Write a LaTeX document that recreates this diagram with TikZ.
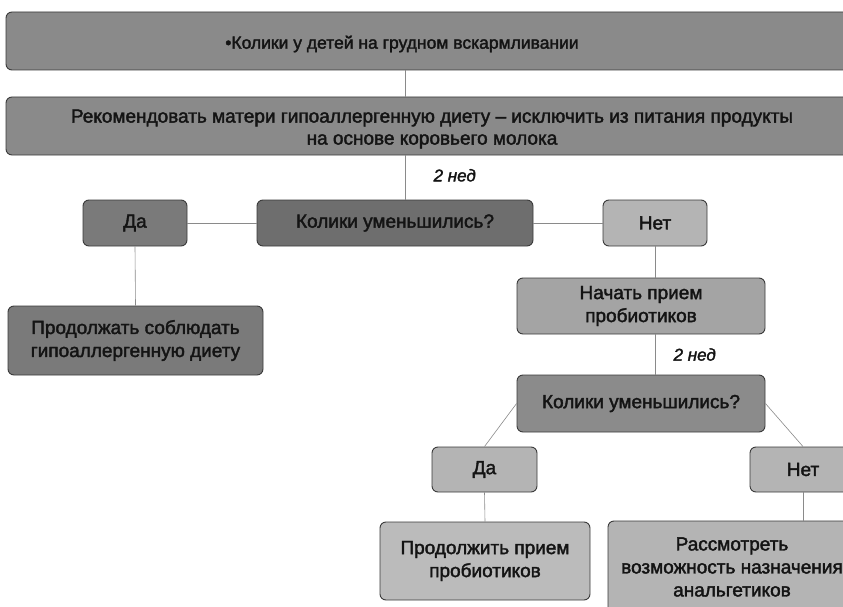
\documentclass[tikz,border=0pt]{standalone}
\usepackage{fontspec}
\setmainfont{Liberation Sans}[FakeBold=2]
\usetikzlibrary{positioning}
\definecolor{ScanInk}{HTML}{141414}
\definecolor{ScanEdge}{HTML}{3A3A3A}
\definecolor{ScanLine}{HTML}{8A8A8A}
\definecolor{ScanDark}{HTML}{7A7A7A}
\definecolor{ScanMid}{HTML}{8A8A8A}
\definecolor{ScanSoft}{HTML}{A4A4A4}
\definecolor{ScanPale}{HTML}{B4B4B4}
\tikzset{
  every node/.style={font=\fontsize{19}{23}\selectfont, text=ScanInk},
  box/.style={draw=ScanEdge, line width=0.9pt, rounded corners=6pt, inner sep=0pt, align=center},
  link/.style={draw=ScanLine, line width=0.6pt},
  period/.style={font=\fontsize{17}{21}\selectfont\itshape, anchor=west},
}
\begin{document}
\begin{tikzpicture}[x=1pt, y=-1pt]
  \useasboundingbox (0,0) rectangle (843,607);
  \clip (0,0) rectangle (843,607);
  % Header bars
  \node[box, fill=ScanMid, minimum width=874, minimum height=58] (colic) at (443,41) {};
  \node[font=\fontsize{17.5}{21}\selectfont] (colictext) at (402,44) {•Колики у детей на грудном вскармливании};
  \node[box, fill=ScanMid, minimum width=874, minimum height=58] (diet) at (443,126) {};
  \node[align=center, font=\fontsize{19}{22}\selectfont] (diettext) at (432,129)
    {Рекомендовать матери гипоаллергенную диету – исключить из питания продукты\\
     на основе коровьего молока};
  % First check
  \node[box, fill=ScanDark!90!black, minimum width=276, minimum height=46] (q1) at (395,223) {Колики уменьшились?};
  \node[box, fill=ScanDark, minimum width=104, minimum height=46] (yes1) at (135,223) {Да};
  \node[box, fill=ScanPale, minimum width=104, minimum height=46] (no1) at (655,223) {Нет};
  \node[box, fill=ScanDark, minimum width=255, minimum height=69] (keep) at (135.5,340.5)
    {Продолжать соблюдать\\гипоаллергенную диету};
  \node[box, fill=ScanSoft, minimum width=248, minimum height=56] (probio) at (641,306)
    {Начать прием\\пробиотиков};
  % Second check
  \node[box, fill=ScanSoft!85!black, minimum width=248, minimum height=57] (q2) at (641,403.5) {Колики уменьшились?};
  \node[box, fill=ScanPale, minimum width=105, minimum height=45] (yes2) at (484.5,469.5) {Да};
  \node[box, fill=ScanPale, minimum width=106, minimum height=45] (no2) at (803,469.5) {Нет};
  \node[box, fill=ScanPale!90!white, minimum width=210, minimum height=78] (cont) at (485,561)
    {Продолжить прием\\пробиотиков};
  \node[box, fill=ScanPale, minimum width=248, minimum height=92] (consider) at (732,567)
    {Рассмотреть\\возможность назначения\\анальгетиков};
  % Connectors
  \draw[link] (405,0 |- colic.south) -- (405,0 |- diet.north);
  \draw[link] (405,0 |- diet.south) -- (405,0 |- q1.north)
    node[period, pos=0.45, xshift=25pt] (wait1) {2 нед};
  \draw[link] (q1.west) -- (yes1.east);
  \draw[link] (q1.east) -- (no1.west);
  \draw[link] (yes1.south) -- (keep.north);
  \draw[link] (no1.south) -- (no1.south |- probio.north);
  \draw[link] (no1.south |- probio.south) -- (no1.south |- q2.north)
    node[period, pos=0.5, xshift=15pt] (wait2) {2 нед};
  \draw[link] (q2.west) -- (yes2.north);
  \draw[link] (q2.east) -- (no2.north);
  \draw[link] (yes2.south) -- (cont.north);
  \draw[link] (no2.south) -- (no2.south |- consider.north);
\end{tikzpicture}
\end{document}
